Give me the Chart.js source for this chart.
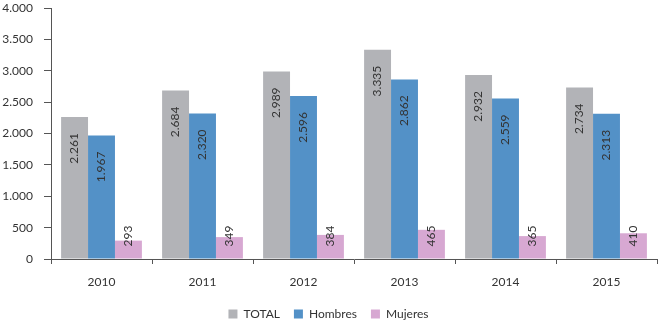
<!DOCTYPE html>
<html>
<head>
<meta charset="utf-8">
<script src="https://cdn.jsdelivr.net/npm/chart.js@4/dist/chart.umd.min.js"></script>
<style>
    html, body { margin: 0; padding: 0; background: #fff; }
    #wrap { width: 665px; height: 327px; }
</style>
</head>
<body>
<div id="wrap"><canvas id="chart" width="665" height="327"></canvas></div>
<script>
const years = ['2010', '2011', '2012', '2013', '2014', '2015'];
const total = [2261, 2684, 2989, 3335, 2932, 2734];
const hombres = [1967, 2320, 2596, 2862, 2559, 2313];
const mujeres = [293, 349, 384, 465, 365, 410];
const yTicks = [0, 500, 1000, 1500, 2000, 2500, 3000, 3500, 4000];

function fmt(n) {
    return String(n).replace(/\B(?=(\d{3})+(?!\d))/g, '.');
}

const fontFamily = 'Lato, "DejaVu Sans", sans-serif';

// rotated value labels: top inside for TOTAL/Hombres, near the base for Mujeres
const barLabels = {
    id: 'barLabels',
    afterDatasetsDraw(chart) {
        const ctx = chart.ctx;
        ctx.save();
        ctx.font = '12px ' + fontFamily;
        ctx.fillStyle = '#333';
        ctx.textBaseline = 'middle';
        chart.data.datasets.forEach((ds, i) => {
            const meta = chart.getDatasetMeta(i);
            meta.data.forEach((bar, j) => {
                ctx.save();
                if (i < 2) {
                    ctx.translate(bar.x, bar.y + 16);
                    ctx.rotate(-Math.PI / 2);
                    ctx.textAlign = 'right';
                } else {
                    ctx.translate(bar.x, bar.base - 12);
                    ctx.rotate(-Math.PI / 2);
                    ctx.textAlign = 'left';
                }
                ctx.fillText(fmt(ds.data[j]), 0, 0);
                ctx.restore();
            });
        });
        ctx.restore();
    }
};

new Chart(document.getElementById('chart'), {
    type: 'bar',
    data: {
        labels: years,
        datasets: [
            { label: 'TOTAL', data: total, backgroundColor: 'rgb(178,179,183)' },
            { label: 'Hombres', data: hombres, backgroundColor: 'rgb(83,145,199)' },
            { label: 'Mujeres', data: mujeres, backgroundColor: 'rgb(215,168,210)' }
        ]
    },
    options: {
        responsive: false,
        animation: false,
        categoryPercentage: 0.8,
        barPercentage: 1.0,
        layout: { padding: { top: 0, right: 8, left: 0, bottom: -3 } },
        scales: {
            x: {
                grid: { drawOnChartArea: false, tickLength: 5, color: '#555' },
                border: { color: '#555' },
                ticks: { color: '#333', font: { family: fontFamily, size: 12 }, padding: 11 },
                afterFit(scale) { scale.height = 35; }
            },
            y: {
                min: 0,
                max: 4000,
                afterBuildTicks(scale) { scale.ticks = yTicks.map(v => ({ value: v })); },
                grid: { drawOnChartArea: false, tickLength: 7, color: '#555' },
                border: { color: '#555' },
                ticks: {
                    color: '#333',
                    font: { family: fontFamily, size: 12 },
                    padding: 11,
                    callback: v => fmt(v)
                },
                afterFit(scale) {
                    scale.width = 51;
                    scale.paddingTop = 8;
                    scale.paddingBottom = 0;
                }
            }
        },
        plugins: {
            legend: {
                position: 'bottom',
                labels: {
                    boxWidth: 9,
                    boxHeight: 9,
                    padding: 14,
                    color: '#333',
                    font: { family: fontFamily, size: 12 }
                }
            },
            tooltip: { enabled: false }
        }
    },
    plugins: [barLabels]
});
</script>
</body>
</html>
